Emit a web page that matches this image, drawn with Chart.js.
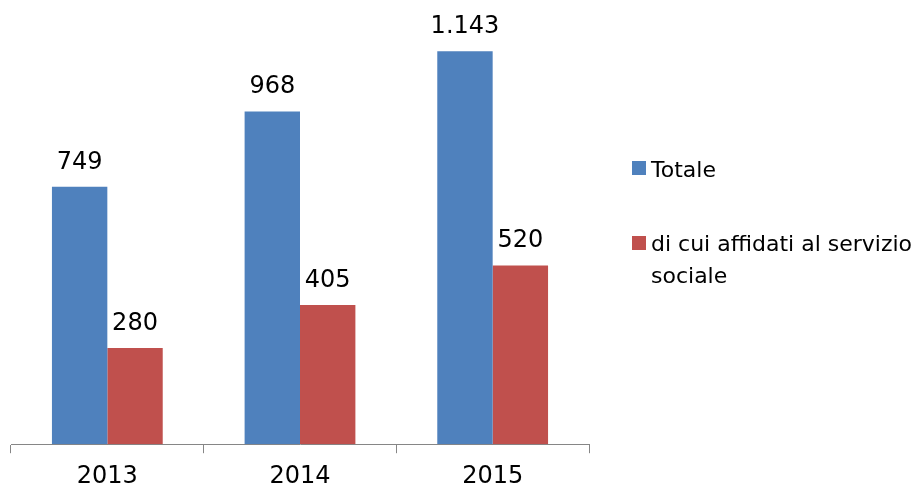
<!DOCTYPE html>
<html lang="it">
  <head>
    <meta charset="UTF-8" />
    <title>Grafico</title>
    <script src="https://cdn.jsdelivr.net/npm/chart.js"></script>
    <style>
      body { margin: 0; background: #fff; font-family: "DejaVu Sans", sans-serif; }
      #wrap { position: relative; width: 917px; height: 488px; overflow: hidden; }
      #legend { position: absolute; left: 632px; top: 153.6px; width: 285px; font-size: 22px; color: #000; }
      .item { position: relative; padding-left: 19px; line-height: 31.5px; }
      .item span.box { position: absolute; left: 0; top: 7.4px; width: 14px; height: 14px; }
    </style>
  </head>
  <body>
    <div id="wrap">
      <canvas id="myChart" width="917" height="488"></canvas>
      <div id="legend"></div>
    </div>
  <script>
const years = ['2013', '2014', '2015'];
const totale = [749, 968, 1143];
const affidati = [280, 405, 520];
const seriesNames = ['Totale', 'di cui affidati al servizio sociale'];
const colors = ['#4F81BD', '#C0504D'];

function fmt(n){
  return String(n).replace(/\B(?=(\d{3})+(?!\d))/g, '.');
}

// etichette sopra le barre
const valueLabels = {
  id: 'valueLabels',
  afterDatasetsDraw(chart){
    const ctx = chart.ctx;
    ctx.save();
    ctx.font = '24px "DejaVu Sans", sans-serif';
    ctx.fillStyle = '#000';
    ctx.textAlign = 'center';
    ctx.textBaseline = 'alphabetic';
    chart.data.datasets.forEach((ds, i) => {
      chart.getDatasetMeta(i).data.forEach((bar, j) => {
        ctx.fillText(fmt(ds.data[j]), bar.x, bar.y - 18);
      });
    });
    ctx.restore();
  }
};

const ctx = document.getElementById('myChart');
const chart = new Chart(ctx, {
  type: 'bar',
  data: {
    labels: years,
    datasets: [
      { label: seriesNames[0], data: totale, backgroundColor: colors[0] },
      { label: seriesNames[1], data: affidati, backgroundColor: colors[1] }
    ]
  },
  options: {
    responsive: false,
    animation: false,
    layout: { padding: { left: 11, right: 328, top: 0, bottom: -12 } },
    plugins: { legend: { display: false }, tooltip: { enabled: false } },
    datasets: { bar: { categoryPercentage: 0.575, barPercentage: 1 } },
    scales: {
      x: {
        grid: { display: true, drawOnChartArea: false, tickLength: 9, color: '#868686', offset: true },
        border: { color: '#868686', width: 1 },
        ticks: { color: '#000', padding: 9, font: { size: 24, family: '"DejaVu Sans", sans-serif' } }
      },
      y: { display: false, min: 0, max: 1292 }
    }
  },
  plugins: [valueLabels]
});

const legend = document.getElementById('legend');
seriesNames.forEach((name, i) => {
  const d = document.createElement('div');
  d.className = 'item';
  if (i > 0) d.style.marginTop = '43.2px';
  d.innerHTML = '<span class="box" style="background:' + colors[i] + '"></span>' + name;
  legend.appendChild(d);
});
  </script>
  </body>
</html>
